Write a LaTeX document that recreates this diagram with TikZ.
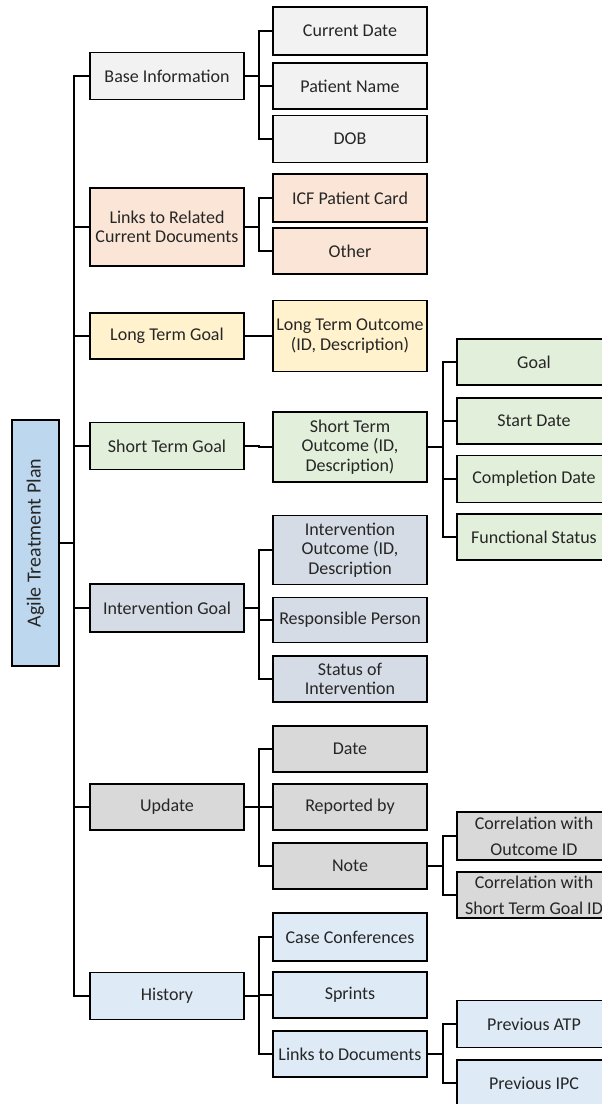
\documentclass[tikz,border=0pt]{standalone}
\usepackage{fontspec}
\setmainfont{Carlito}
\definecolor{txt}{HTML}{262626}
\definecolor{cbase}{HTML}{F2F2F2}
\definecolor{clink}{HTML}{FBE5D6}
\definecolor{clong}{HTML}{FFF2CC}
\definecolor{cshort}{HTML}{E2EFDA}
\definecolor{cinter}{HTML}{D6DCE5}
\definecolor{cupd}{HTML}{D9D9D9}
\definecolor{chist}{HTML}{DEEBF7}
\definecolor{croot}{HTML}{BDD7EE}
\begin{document}
\begin{tikzpicture}[x=1pt,y=-1pt,
  box/.style={draw=black, line width=1.5pt, minimum width=154pt, inner sep=0pt,
    align=center, text=txt, font=\fontsize{18}{19.5}\selectfont},
  wide/.style={box, font=\fontsize{18}{26}\selectfont},
  link/.style={draw=black, line width=1.6pt}]
\useasboundingbox (0,0) rectangle (602,1104);
\clip (0,0) rectangle (602,1104);

% root
\node[box, fill=croot, rotate=90, minimum width=246pt, minimum height=47pt,
  font=\fontsize{20}{22}\selectfont] (root) at (35.5,543) {Agile Treatment Plan};

% first level
\node[box, fill=cbase,  minimum height=47pt] (base) at (167,76)  {Base Information};
\node[box, fill=clink,  minimum height=78pt] (links) at (167,227) {Links to Related\\Current Documents};
\node[box, fill=clong,  minimum height=46pt] (ltg)  at (167,336) {Long Term Goal};
\node[box, fill=cshort, minimum height=47pt] (stg)  at (167,446) {Short Term Goal};
\node[box, fill=cinter, minimum height=48pt] (ig)   at (167,608) {Intervention Goal};
\node[box, fill=cupd,   minimum height=46pt] (upd)  at (167,807) {Update};
\node[box, fill=chist,  minimum height=47pt] (hist) at (167,996) {History};

% second level
\node[box, fill=cbase,  minimum height=48pt] (cdate) at (350,31)  {Current Date};
\node[box, fill=cbase,  minimum height=46pt] (pname) at (350,86)  {Patient Name};
\node[box, fill=cbase,  minimum height=47pt] (dob)   at (350,139) {DOB};
\node[box, fill=clink,  minimum height=48pt] (icf)   at (350,198) {ICF Patient Card};
\node[box, fill=clink,  minimum height=46pt] (other) at (350,251) {Other};
\node[box, fill=clong,  minimum height=71pt] (lto)   at (350,336) {Long Term Outcome\\(ID, Description)};
\node[box, fill=cshort, minimum height=70pt] (sto)   at (350,447) {Short Term\\Outcome (ID,\\Description)};
\node[box, fill=cinter, minimum height=69pt] (io)    at (350,550) {Intervention\\Outcome (ID,\\Description};
\node[box, fill=cinter, minimum height=45pt] (rp)    at (350,620) {Responsible Person};
\node[box, fill=cinter, minimum height=46pt] (soi)   at (350,679) {Status of\\Intervention};
\node[box, fill=cupd,   minimum height=46pt] (date)  at (350,749) {Date};
\node[box, fill=cupd,   minimum height=46pt] (rep)   at (350,807) {Reported by};
\node[box, fill=cupd,   minimum height=46pt] (note)  at (350,866) {Note};
\node[box, fill=chist,  minimum height=48pt] (cc)    at (350,937) {Case Conferences};
\node[box, fill=chist,  minimum height=46pt] (spr)   at (350,995) {Sprints};
\node[box, fill=chist,  minimum height=46pt] (ltd)   at (350,1054) {Links to Documents};

% third level
\node[box, fill=cshort, minimum height=46pt] (goal)  at (534,362) {Goal};
\node[box, fill=cshort, minimum height=46pt] (sdate) at (534,421) {Start Date};
\node[box, fill=cshort, minimum height=47pt] (cdone) at (534,479) {Completion Date};
\node[box, fill=cshort, minimum height=46pt] (fstat) at (534,537) {Functional Status};
\node[wide, fill=cupd,  minimum height=48pt] (cor1)  at (534,836) {Correlation with\\Outcome ID};
\node[wide, fill=cupd,  minimum height=46pt] (cor2)  at (534,895) {Correlation with\\Short Term Goal ID};
\node[box, fill=chist,  minimum height=47pt] (patp)  at (534,1024) {Previous ATP};
\node[box, fill=chist,  minimum height=46pt] (pipc)  at (534,1083) {Previous IPC};

% trunk from the root
\coordinate (trunk) at (74,543);
\draw[link] (root.south) -- (trunk);
\foreach \n in {base,links,ltg,stg,ig,upd,hist}
  \draw[link] (trunk) |- (\n.west);

% second-level buses
\foreach \p/\c in {base/cdate,base/pname,base/dob,links/icf,links/other,
    ltg/lto,stg/sto,ig/io,ig/rp,ig/soi,upd/date,upd/rep,upd/note,
    hist/cc,hist/spr,hist/ltd}
  \draw[link] (\p.east) -- ++(14,0) |- (\c.west);

% third-level buses
\foreach \p/\c in {sto/goal,sto/sdate,sto/cdone,sto/fstat,note/cor1,note/cor2,
    ltd/patp,ltd/pipc}
  \draw[link] (\p.east) -- ++(15,0) |- (\c.west);
\end{tikzpicture}
\end{document}
